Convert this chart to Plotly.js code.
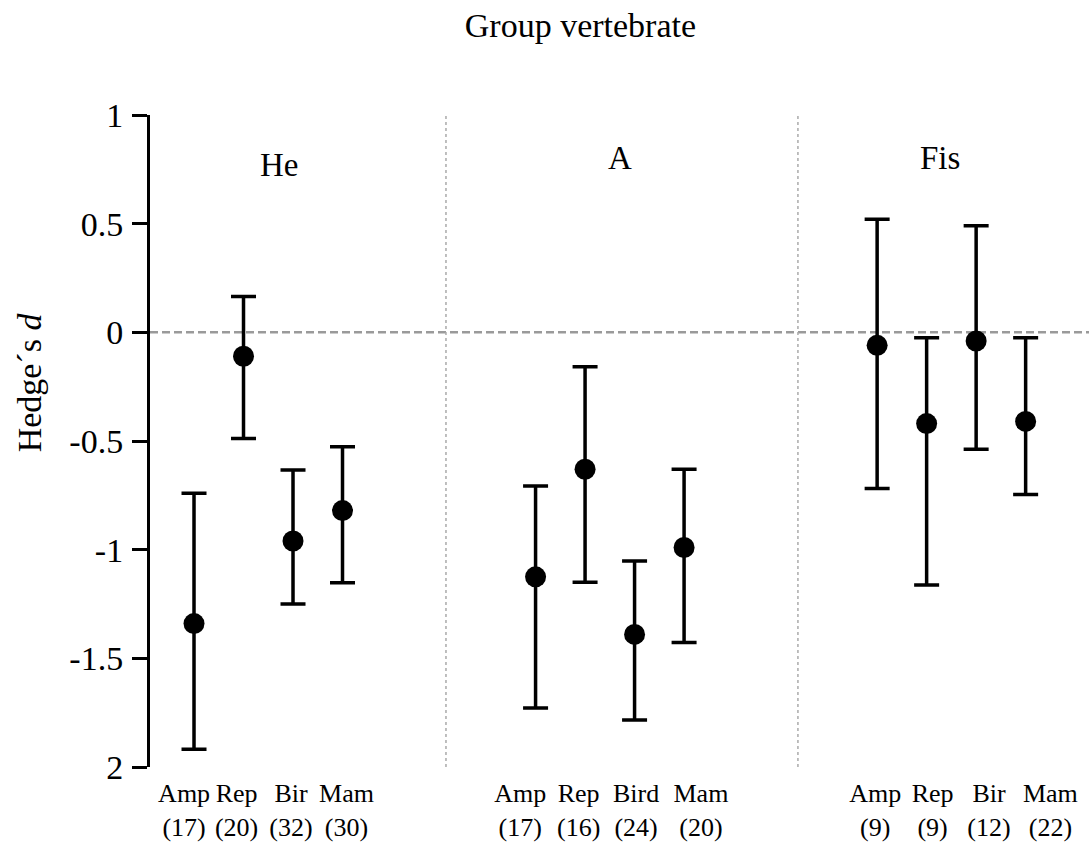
<!DOCTYPE html>
<html>
<head>
<meta charset="utf-8">
<script src="https://cdn.plot.ly/plotly-3.0.1.min.js"></script>
<style>
  html, body { margin: 0; padding: 0; background: #fff; }
  #chart { width: 1089px; height: 847px; }
</style>
</head>
<body>
<div id="chart"></div>
<script>
// Effect sizes (Hedge's d) with confidence limits per vertebrate group
const groups = ['He', 'A', 'Fis'];
const taxa = [
  ['Amp', 'Rep', 'Bir', 'Mam'],
  ['Amp', 'Rep', 'Bird', 'Mam'],
  ['Amp', 'Rep', 'Bir', 'Mam']
];
const sampleSizes = [
  [17, 20, 32, 30],
  [17, 16, 24, 20],
  [9, 9, 12, 22]
];
const hedgesD = [
  [-1.34, -0.11, -0.96, -0.82],
  [-1.125, -0.63, -1.39, -0.99],
  [-0.06, -0.42, -0.04, -0.41]
];
const ciUpper = [
  [-0.74, 0.165, -0.634, -0.526],
  [-0.707, -0.158, -1.052, -0.63],
  [0.52, -0.025, 0.49, -0.025]
];
const ciLower = [
  [-1.918, -0.488, -1.25, -1.152],
  [-1.728, -1.15, -1.784, -1.427],
  [-0.718, -1.163, -0.538, -0.746]
];
const yTickVals = [-2, -1.5, -1, -0.5, 0, 0.5, 1];
const yTickText = ['2', '-1.5', '-1', '-0.5', '0', '0.5', '1'];

// Layout of the x positions: one unit per taxon, groups spaced apart
const groupStep = 6.9;
const labelNudge = [
  [-0.2, -0.14, -0.04, 0.08],
  [-0.31, -0.13, 0.03, 0.34],
  [-0.04, 0.12, 0.26, 0.5]
];

const FONT = 'Liberation Serif, Times New Roman, serif';
const traces = [];
const tickVals = [];
const tickText = [];

groups.forEach((g, gi) => {
  const xs = taxa[gi].map((_, i) => gi * groupStep + i);
  traces.push({
    type: 'scatter',
    mode: 'markers',
    name: g,
    x: xs,
    y: hedgesD[gi],
    marker: { color: '#000', size: 21 },
    error_y: {
      type: 'data',
      symmetric: false,
      array: hedgesD[gi].map((v, i) => ciUpper[gi][i] - v),
      arrayminus: hedgesD[gi].map((v, i) => v - ciLower[gi][i]),
      color: '#000',
      thickness: 3.5,
      width: 12.5
    },
    showlegend: false,
    hoverinfo: 'skip'
  });
  taxa[gi].forEach((t, i) => {
    tickVals.push(xs[i] + labelNudge[gi][i]);
    tickText.push(t + '<br>(' + sampleSizes[gi][i] + ')');
  });
});

const groupLabelX = [1.72, 8.6, 15.07];
const groupLabelY = [0.77, 0.8, 0.8];
const dividerX = [5.09, 12.2];

const shapes = [
  {
    type: 'line', xref: 'paper', yref: 'y',
    x0: 0, x1: 1, y0: 0, y1: 0,
    line: { color: '#9a9a9a', width: 2.5, dash: '8px,4px' },
    layer: 'below'
  }
].concat(dividerX.map(x => ({
  type: 'line', xref: 'x', yref: 'y',
  x0: x, x1: x, y0: -2, y1: 1.04,
  line: { color: '#aaaaaa', width: 1.5, dash: '3px,3px' },
  layer: 'below'
})));

const annotations = groups.map((g, gi) => ({
  text: g, x: groupLabelX[gi], y: groupLabelY[gi],
  xref: 'x', yref: 'y', showarrow: false,
  font: { family: FONT, size: 33, color: '#000' }
}));
annotations.push({
  text: 'Hedge´s <i>d</i>',
  xref: 'paper', yref: 'paper', x: 0, y: 0.59,
  xshift: -121, textangle: -90, showarrow: false,
  xanchor: 'center', yanchor: 'middle',
  font: { family: FONT, size: 34, color: '#000' }
});

const layout = {
  width: 1089,
  height: 847,
  paper_bgcolor: '#fff',
  plot_bgcolor: '#fff',
  margin: { l: 150, r: 0, t: 115, b: 80 },
  title: {
    text: 'Group vertebrate',
    x: 0.533, xanchor: 'center',
    y: 0.97, yanchor: 'middle',
    font: { family: FONT, size: 34, color: '#000' }
  },
  xaxis: {
    range: [-0.889, 18.08],
    showgrid: false, zeroline: false, showline: false,
    ticks: '',
    tickmode: 'array',
    tickvals: tickVals,
    ticktext: tickText,
    tickfont: { family: FONT, size: 26, color: '#000' },
    ticklabelstandoff: 8,
    fixedrange: true
  },
  yaxis: {
    range: [-2, 1],
    showgrid: false, zeroline: false,
    showline: true, linecolor: '#000', linewidth: 3,
    ticks: 'outside', ticklen: 15, tickwidth: 3, tickcolor: '#000',
    tickmode: 'array',
    tickvals: yTickVals,
    ticktext: yTickText,
    tickfont: { family: FONT, size: 34, color: '#000' },
    ticklabelstandoff: 2,
    fixedrange: true
  },
  shapes: shapes,
  annotations: annotations
};

Plotly.newPlot('chart', traces, layout, { displayModeBar: false, staticPlot: true });
</script>
</body>
</html>
